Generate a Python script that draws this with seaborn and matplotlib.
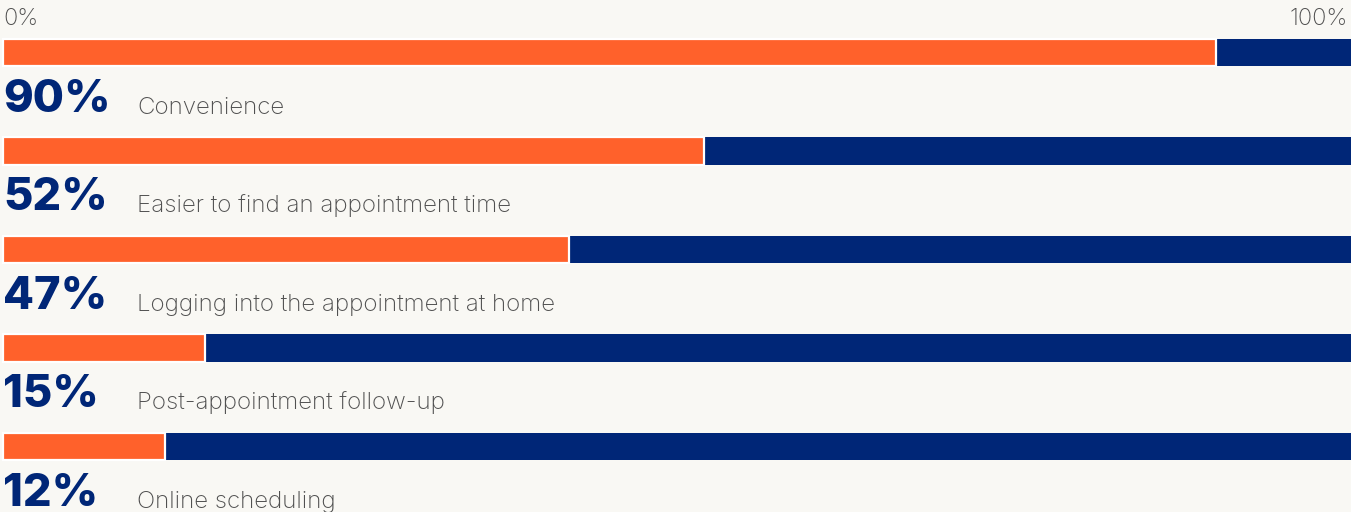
import matplotlib
matplotlib.use("Agg")
import matplotlib.pyplot as plt
import seaborn as sns
import pandas as pd

categories = ["Convenience", "Easier to find an appointment time",
              "Logging into the appointment at home", "Post-appointment follow-up",
              "Online scheduling"]
bar_values = [90, 52, 42, 15, 12]
label_values = ["90%", "52%", "47%", "15%", "12%"]
totals = [100, 100, 100, 100, 100]
axis_labels = ["0%", "100%"]

BG = "#F9F8F4"
ORANGE = "#FF612B"
NAVY = "#002677"
GRAY = "#505050"

sns.set_theme(style="white")
plt.rcParams["font.family"] = ["Inter", "DejaVu Sans"]

df = pd.DataFrame({"cat": categories, "val": bar_values, "tot": totals})

fig = plt.figure(figsize=(13.51, 5.12), dpi=100, facecolor=BG)
ax = fig.add_axes([0, 0, 1, 1])
ax.set_facecolor(BG)

sns.barplot(data=df, y="cat", x="tot", orient="h", color=NAVY, width=0.28,
            saturation=1, ax=ax, linewidth=0)
sns.barplot(data=df, y="cat", x="val", orient="h", color=ORANGE, width=0.28,
            saturation=1, ax=ax, edgecolor="white", linewidth=1.6)

ax.set_xlim(-3 / 13.48, 100)
ax.set_ylim(4.665, -0.533)
ax.axis("off")

for i, (cat, lab) in enumerate(zip(categories, label_values)):
    ax.text(0.0, i + 0.600, lab, fontsize=32.5, fontweight="heavy", color=NAVY,
            ha="left", va="baseline")
    ax.text(9.95, i + 0.622, cat, fontsize=17.4, fontweight="light", color=GRAY,
            ha="left", va="baseline")

ax.text(0.0, -0.279, axis_labels[0], fontsize=17, fontweight="light", color=GRAY,
        ha="left", va="baseline")
ax.text(99.75, -0.279, axis_labels[1], fontsize=17, fontweight="light", color=GRAY,
        ha="right", va="baseline")

fig.savefig("out.png", dpi=100, facecolor=BG)
